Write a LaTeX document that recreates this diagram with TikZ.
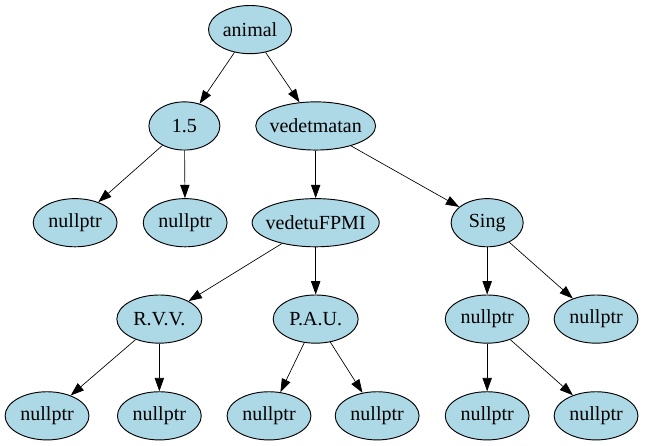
\documentclass[tikz,border=0pt]{standalone}
\usepackage{fontspec}
\setmainfont{Liberation Serif}
\usepackage{tikz}
\usetikzlibrary{arrows.meta,shapes.geometric}
\definecolor{treeblue}{HTML}{ADD8E6}
\tikzset{tnode/.style={ellipse,draw=black,line width=0.7pt,fill=treeblue,inner sep=1pt,minimum height=1.27cm,font=\rmfamily\fontsize{15}{18}\selectfont},leaf/.style={tnode,minimum width=2.21cm},edge/.style={-{Triangle[length=10pt,width=7pt]},line width=0.5pt}}

\begin{document}
\begin{tikzpicture}
\useasboundingbox (0,0) rectangle (17.0,-11.73);
\node[tnode,minimum width=2.19cm] (animal) at (6.59,-0.78) {animal};
\node[tnode,minimum width=1.87cm] (onefive) at (4.86,-3.32) {1.5};
\node[tnode,minimum width=3.16cm,inner xsep=-3pt] (vedetmatan) at (8.32,-3.32) {vedetmatan};
\node[leaf] (nullA) at (1.98,-5.87) {nullptr};
\node[leaf] (nullB) at (4.88,-5.87) {nullptr};
\node[tnode,minimum width=3.35cm,inner xsep=-4pt] (vedetufpmi) at (8.32,-5.87) {vedetuFPMI};
\node[tnode,minimum width=1.90cm] (sing) at (12.84,-5.87) {Sing};
\node[tnode,minimum width=2.24cm] (rvv) at (4.20,-8.41) {R.V.V.};
\node[tnode,minimum width=2.24cm] (pau) at (8.32,-8.41) {P.A.U.};
\node[leaf] (nullC) at (12.84,-8.41) {nullptr};
\node[leaf] (nullD) at (15.71,-8.41) {nullptr};
\node[leaf] (nullE) at (1.24,-10.96) {nullptr};
\node[leaf] (nullF) at (4.20,-10.96) {nullptr};
\node[leaf] (nullG) at (7.09,-10.96) {nullptr};
\node[leaf] (nullH) at (9.94,-10.96) {nullptr};
\node[leaf] (nullI) at (12.84,-10.96) {nullptr};
\node[leaf] (nullJ) at (15.71,-10.96) {nullptr};
\draw[edge] (animal) -- (onefive);
\draw[edge] (animal) -- (vedetmatan);
\draw[edge] (onefive) -- (nullA);
\draw[edge] (onefive) -- (nullB);
\draw[edge] (vedetmatan) -- (vedetufpmi);
\draw[edge] (vedetmatan) -- (sing);
\draw[edge] (vedetufpmi) -- (rvv);
\draw[edge] (vedetufpmi) -- (pau);
\draw[edge] (sing) -- (nullC);
\draw[edge] (sing) -- (nullD);
\draw[edge] (rvv) -- (nullE);
\draw[edge] (rvv) -- (nullF);
\draw[edge] (pau) -- (nullG);
\draw[edge] (pau) -- (nullH);
\draw[edge] (nullC) -- (nullI);
\draw[edge] (nullC) -- (nullJ);
\end{tikzpicture}
\end{document}
